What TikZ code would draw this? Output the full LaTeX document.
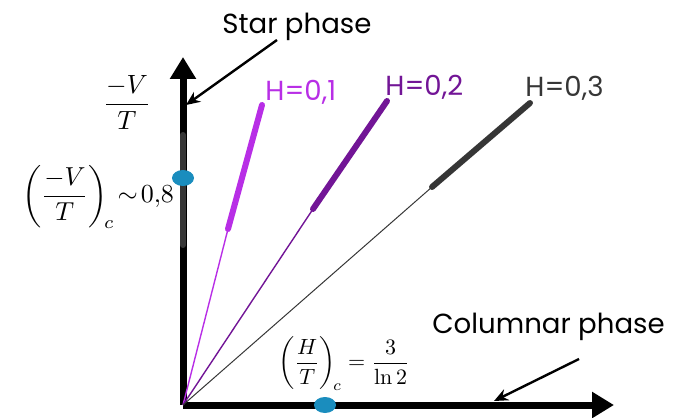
\documentclass[tikz,border=0pt]{standalone}
\usepackage{amsmath}
\usepackage{fontspec}
\newfontfamily\labelfont{Poppins}
\usetikzlibrary{arrows.meta,shapes.geometric}
\definecolor{hone}{HTML}{B82EE6}
\definecolor{htwo}{HTML}{721596}
\definecolor{hthree}{HTML}{363636}
\definecolor{critblue}{HTML}{1A8DBE}

\begin{document}
\begin{tikzpicture}[x=0.5pt,y=-0.5pt,
  axis/.style={line width=3.5pt,-{Triangle[length=11pt,width=12.5pt]}},
  pointer/.style={line width=1.2pt,-{Stealth[length=7pt,width=6pt]}},
  thinpart/.style={line width=0.7pt},
  thickpart/.style={line width=3pt,line cap=round},
  critdot/.style={ellipse,fill=critblue,inner sep=0pt,minimum width=11pt,minimum height=8pt},
  hlab/.style={font=\labelfont\fontsize{13.8}{16}\selectfont,anchor=base west,inner sep=0pt},
  phase/.style={font=\labelfont\fontsize{13.8}{16}\selectfont,anchor=base west,inner sep=0pt}]
\useasboundingbox (0,0) rectangle (695,417);
% axes
\coordinate (O) at (183,405);
\coordinate (ytop) at (183,57);
\coordinate (xend) at (614,405);
\draw[axis] (O) -- (ytop);
\draw[axis] (O) -- (xend);
\node (ylab) at (127,102) {\scalebox{1.32}{$\dfrac{-V}{T}$}};
% critical values
\coordinate (bartop) at (183,135);
\coordinate (barbot) at (183,245);
\draw[line width=3pt,line cap=round,hthree] (bartop) -- (barbot);
\node[critdot] (vc) at (183,178) {};
\node[critdot] (hc) at (325,405) {};
\node (vclab) at (98,197) {\scalebox{1.3}{$\left(\dfrac{-V}{T}\right)_{\!c}\!\sim\!0{,}8$}};
\node (hclab) at (344,364) {\scalebox{1.1}{$\left(\dfrac{H}{T}\right)_{\!c}=\dfrac{3}{\ln 2}$}};
% field lines
\coordinate (a1) at (228,229);
\coordinate (b1) at (262,105);
\coordinate (a2) at (313,209);
\coordinate (b2) at (387,101);
\coordinate (a3) at (432,187);
\coordinate (b3) at (530,103);
\draw[thinpart,hone] (O) -- (a1);
\draw[thickpart,hone] (a1) -- (b1);
\draw[thinpart,htwo] (O) -- (a2);
\draw[thickpart,htwo] (a2) -- (b2);
\draw[line width=0.5pt,hthree] (O) -- (a3);
\draw[thickpart,hthree] (a3) -- (b3);
\node[hlab,text=hone] (l1) at (265,101) {H=0,1};
\node[hlab,text=htwo] (l2) at (385,96) {H=0,2};
\node[hlab,text=hthree] (l3) at (525,97) {H=0,3};
% phases
\node[phase] (star) at (222,34) {Star phase};
\node[phase] (col) at (432,333) {Columnar phase};
\coordinate (startip) at (186,105);
\coordinate (coltip) at (494,401);
\draw[pointer] (277,40) -- (startip);
\draw[pointer] (579,359) -- (coltip);
\end{tikzpicture}
\end{document}
